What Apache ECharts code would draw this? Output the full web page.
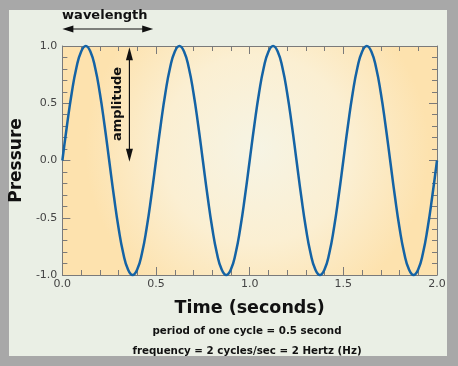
<!DOCTYPE html>
<html><head><meta charset="utf-8">
<script src="https://cdn.jsdelivr.net/npm/echarts@6/dist/echarts.min.js"></script>
<style>html,body{margin:0;padding:0;background:#a8a8a8;}#c{width:458px;height:366px;}</style>
</head><body><div id="c"></div>
<script>
// Time samples (seconds), step 0.025
const times = [];
for (let i = 0; i <= 80; i++) times.push(+(i * 0.025).toFixed(3));
// Pressure at each time sample (one cycle repeated 4 times)
const pressure = [
  0, 0.31, 0.59, 0.81, 0.95, 1.0, 0.95, 0.81, 0.59, 0.31,
  0, -0.31, -0.59, -0.81, -0.95, -1.0, -0.95, -0.81, -0.59, -0.31,
  0, 0.31, 0.59, 0.81, 0.95, 1.0, 0.95, 0.81, 0.59, 0.31,
  0, -0.31, -0.59, -0.81, -0.95, -1.0, -0.95, -0.81, -0.59, -0.31,
  0, 0.31, 0.59, 0.81, 0.95, 1.0, 0.95, 0.81, 0.59, 0.31,
  0, -0.31, -0.59, -0.81, -0.95, -1.0, -0.95, -0.81, -0.59, -0.31,
  0, 0.31, 0.59, 0.81, 0.95, 1.0, 0.95, 0.81, 0.59, 0.31,
  0, -0.31, -0.59, -0.81, -0.95, -1.0, -0.95, -0.81, -0.59, -0.31,
  0
];
const xTicks = ['0.0', '0.5', '1.0', '1.5', '2.0'];
const yTicks = ['-1.0', '-0.5', '0.0', '0.5', '1.0'];
const xTitle = 'Time (seconds)';
const yTitle = 'Pressure';
const note1 = 'period of one cycle = 0.5 second';
const note2 = 'frequency = 2 cycles/sec = 2 Hertz (Hz)';

const F = 'DejaVu Sans, Verdana, sans-serif';
const chart = echarts.init(document.getElementById('c'));
const frame = '#7a7a7a';
const tickCommon = () => ({
  axisLine: {show: true, onZero: false, lineStyle: {color: frame, width: 1}},
  axisTick: {show: true, inside: true, length: 8, lineStyle: {color: frame}},
  minorTick: {show: true, splitNumber: 5, length: 5, lineStyle: {color: frame}},
  splitLine: {show: false}
});
const xLab = {color: '#444', fontFamily: F, fontSize: 11, margin: 4,
  formatter: v => xTicks[Math.round(v / 0.5)] || ''};
const yLab = {color: '#444', fontFamily: F, fontSize: 11, margin: 5,
  formatter: v => yTicks[Math.round((v + 1) / 0.5)] || ''};

chart.setOption({
  animation: false,
  backgroundColor: '#a8a8a8',
  grid: {
    left: 57, right: 21, top: 46, bottom: 91, show: true, borderWidth: 0,
    backgroundColor: {type: 'radial', x: 0.52, y: 0.45, r: 0.75,
      colorStops: [{offset: 0, color: '#f6f4e4'}, {offset: 0.55, color: '#fbefd2'}, {offset: 1, color: '#fde2ae'}]}
  },
  xAxis: [
    Object.assign({type: 'value', min: 0, max: 2, interval: 0.5, position: 'bottom', axisLabel: xLab,
      name: xTitle, nameLocation: 'middle', nameGap: 24,
      nameTextStyle: {fontFamily: F, fontWeight: 'bold', fontSize: 17.5, color: '#111'}}, tickCommon()),
    Object.assign({type: 'value', min: 0, max: 2, interval: 0.5, position: 'top', axisLabel: {show: false}}, tickCommon())
  ],
  yAxis: [
    Object.assign({type: 'value', min: -1, max: 1, interval: 0.5, position: 'left', axisLabel: yLab,
      name: yTitle, nameLocation: 'middle', nameGap: 34,
      nameTextStyle: {fontFamily: F, fontWeight: 'bold', fontSize: 17, color: '#111'}}, tickCommon()),
    Object.assign({type: 'value', min: -1, max: 1, interval: 0.5, position: 'right', axisLabel: {show: false}}, tickCommon())
  ],
  series: [{
    type: 'line', data: times.map((t, i) => [t, pressure[i]]), smooth: true, showSymbol: false,
    lineStyle: {color: '#1463a5', width: 2.5}, clip: false
  }]
});

// annotations anchored to data coordinates
const p = (x, y) => chart.convertToPixel({xAxisIndex: 0, yAxisIndex: 0}, [x, y]);
const a0 = p(0, 1), a1 = p(0.485, 1);
const wy = 29;
const v0 = p(0.358, 0.99), v1 = p(0.358, -0.01);
const ac = '#111';
const els = [
  {type: 'rect', z: -10, silent: true, shape: {x: 9, y: 10, width: 438, height: 346}, style: {fill: '#eaefe5'}},
  {type: 'line', shape: {x1: a0[0] + 8, y1: wy, x2: a1[0] - 8, y2: wy}, style: {stroke: ac, lineWidth: 1.2}},
  {type: 'polygon', shape: {points: [[a0[0], wy], [a0[0] + 11, wy - 3.5], [a0[0] + 11, wy + 3.5]]}, style: {fill: ac}},
  {type: 'polygon', shape: {points: [[a1[0], wy], [a1[0] - 11, wy - 3.5], [a1[0] - 11, wy + 3.5]]}, style: {fill: ac}},
  {type: 'text', style: {text: 'wavelength', x: (a0[0] + a1[0]) / 2 - 3, y: 16, align: 'center', verticalAlign: 'middle',
    font: 'bold 13px ' + F, fill: '#111'}},
  {type: 'line', shape: {x1: v0[0], y1: v0[1] + 8, x2: v1[0], y2: v1[1] - 8}, style: {stroke: ac, lineWidth: 1.2}},
  {type: 'polygon', shape: {points: [[v0[0], v0[1]], [v0[0] - 3.5, v0[1] + 13], [v0[0] + 3.5, v0[1] + 13]]}, style: {fill: ac}},
  {type: 'polygon', shape: {points: [[v1[0], v1[1]], [v1[0] - 3.5, v1[1] - 13], [v1[0] + 3.5, v1[1] - 13]]}, style: {fill: ac}},
  {type: 'text', x: v0[0] - 12, y: 104, rotation: Math.PI / 2,
    style: {text: 'amplitude', x: 0, y: 0, align: 'center', verticalAlign: 'middle', font: 'bold 13px ' + F, fill: '#111'}},
  {type: 'text', style: {text: note1, x: 247, y: 331, align: 'center', verticalAlign: 'middle', font: 'bold 10.3px ' + F, fill: '#111'}},
  {type: 'text', style: {text: note2, x: 247, y: 351, align: 'center', verticalAlign: 'middle', font: 'bold 10.3px ' + F, fill: '#111'}}
];
chart.setOption({graphic: els});
</script>
</body></html>
